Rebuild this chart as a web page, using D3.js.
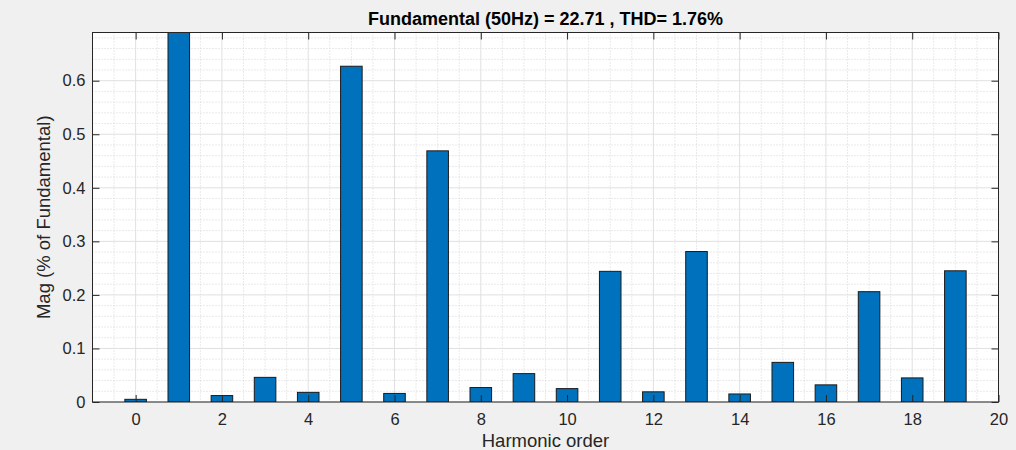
<!DOCTYPE html>
<html>
<head>
<meta charset="utf-8">
<script src="https://cdn.jsdelivr.net/npm/d3@7"></script>
<style>
html,body{margin:0;padding:0;background:#f0f0f0;}
svg{display:block;font-family:"Liberation Sans",Arial,Helvetica,sans-serif;}
</style>
</head>
<body>
<svg id="chart" width="1016" height="450"></svg>
<script>
// Data
const harmonics = [0,1,2,3,4,5,6,7,8,9,10,11,12,13,14,15,16,17,18,19];
const magnitudes = [0.005,100,0.012,0.046,0.018,0.627,0.016,0.469,0.027,0.053,0.025,0.244,0.019,0.281,0.015,0.074,0.032,0.206,0.045,0.245];
const xTicks = [0,2,4,6,8,10,12,14,16,18,20];
const yTicks = [0,0.1,0.2,0.3,0.4,0.5,0.6];
const titleText = "Fundamental (50Hz) = 22.71 , THD= 1.76%";
const xLabel = "Harmonic order";
const yLabel = "Mag (% of Fundamental)";

const svg = d3.select("#chart");
const L = 92.5, R = 998.5, T = 32.5, B = 402;
const x = d3.scaleLinear().domain([-1, 20]).range([L, R]);
const y = d3.scaleLinear().domain([0, 0.69]).range([B, T]);
const axisColor = "#262626";

// axes background
svg.append("rect").attr("x", L).attr("y", T).attr("width", R - L).attr("height", B - T).attr("fill", "#fff");

// minor grid
const g = svg.append("g");
const xMinor = d3.range(-1, 20.001, 0.5).filter(v => Math.abs(v % 2) > 1e-6);
const yMinor = d3.range(0, 0.69, 0.02).filter(v => Math.abs((v * 10) - Math.round(v * 10)) > 1e-6);
g.selectAll(".xm").data(xMinor).join("line")
  .attr("x1", d => x(d)).attr("x2", d => x(d)).attr("y1", T).attr("y2", B)
  .attr("stroke", "#d4d4d4").attr("stroke-width", 1).attr("stroke-dasharray", "1,2");
g.selectAll(".ym").data(yMinor).join("line")
  .attr("x1", L).attr("x2", R).attr("y1", d => y(d)).attr("y2", d => y(d))
  .attr("stroke", "#d4d4d4").attr("stroke-width", 1).attr("stroke-dasharray", "1,2");
// major grid
g.selectAll(".xg").data(xTicks).join("line")
  .attr("x1", d => x(d)).attr("x2", d => x(d)).attr("y1", T).attr("y2", B)
  .attr("stroke", "#e0e0e0").attr("stroke-width", 1);
g.selectAll(".yg").data(yTicks).join("line")
  .attr("x1", L).attr("x2", R).attr("y1", d => y(d)).attr("y2", d => y(d))
  .attr("stroke", "#e0e0e0").attr("stroke-width", 1);

// clip
svg.append("clipPath").attr("id", "clip").append("rect")
  .attr("x", L).attr("y", T).attr("width", R - L).attr("height", B - T);

// bars
const bw = 0.5;
svg.append("g").attr("clip-path", "url(#clip)")
  .selectAll("rect").data(harmonics).join("rect")
  .attr("x", (d) => x(d - bw / 2))
  .attr("width", x(bw) - x(0))
  .attr("y", (d, i) => y(magnitudes[i]))
  .attr("height", (d, i) => Math.max(0, y(0) - y(magnitudes[i])))
  .attr("fill", "#0072BD").attr("stroke", "#1a1a1a").attr("stroke-width", 1);

// axes (ticks inward)
const tickLen = 7;
const xAxisB = d3.axisBottom(x).tickValues(xTicks).tickSize(-tickLen).tickPadding(11).tickFormat(d3.format("d"));
const xAxisT = d3.axisTop(x).tickValues(xTicks).tickSize(-tickLen).tickFormat("");
const yAxisL = d3.axisLeft(y).tickValues(yTicks).tickSize(-tickLen).tickPadding(7).tickFormat(d => d === 0 ? "0" : d3.format(".1f")(d));
const yAxisR = d3.axisRight(y).tickValues(yTicks).tickSize(-tickLen).tickFormat("");

function style(sel) {
  sel.selectAll("path").attr("stroke", axisColor).attr("stroke-width", 1);
  sel.selectAll("line").attr("stroke", axisColor).attr("stroke-width", 1);
  sel.selectAll("text").attr("fill", axisColor).style("font-size", "16.5px").style("font-family", "'Liberation Sans', Arial, sans-serif");
  sel.select(".domain").attr("d", null);
}
svg.append("g").attr("transform", `translate(0,${B})`).call(xAxisB).call(style);
svg.append("g").attr("transform", `translate(0,${T})`).call(xAxisT).call(style);
svg.append("g").attr("transform", `translate(${L},0)`).call(yAxisL).call(style);
svg.append("g").attr("transform", `translate(${R},0)`).call(yAxisR).call(style);

// box
svg.append("rect").attr("x", L).attr("y", T).attr("width", R - L).attr("height", B - T)
  .attr("fill", "none").attr("stroke", axisColor).attr("stroke-width", 1);

// title
svg.append("text").attr("x", (L + R) / 2).attr("y", 25).attr("text-anchor", "middle")
  .attr("fill", "#000").style("font-size", "18px").style("font-weight", "bold").text(titleText);
// x label
svg.append("text").attr("x", (L + R) / 2).attr("y", 447).attr("text-anchor", "middle")
  .attr("fill", axisColor).style("font-size", "18.5px").text(xLabel);
// y label
svg.append("text").attr("transform", `translate(50,${(T + B) / 2}) rotate(-90)`).attr("text-anchor", "middle")
  .attr("fill", axisColor).style("font-size", "18.5px").text(yLabel);
</script>
</body>
</html>
